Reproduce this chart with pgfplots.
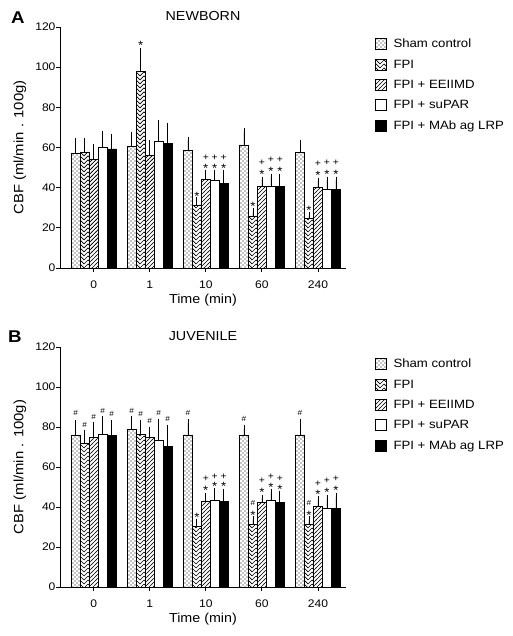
\documentclass[border=0pt]{standalone}
\usepackage{fontspec}
\setmainfont[FakeStretch=1.1]{Liberation Sans}
\usepackage{pgfplots}
\pgfplotsset{compat=1.18}
\usepackage{pgfplotstable}
\usetikzlibrary{patterns}

\pgfdeclarepatternformonly{shamdots}{\pgfpoint{-0.5pt}{-0.5pt}}{\pgfpoint{4.5pt}{4.5pt}}{\pgfpoint{4pt}{4pt}}{%
  \pgfpathcircle{\pgfpoint{1pt}{1pt}}{0.55pt}\pgfpathcircle{\pgfpoint{3pt}{3pt}}{0.55pt}\pgfusepath{fill}}
\pgfdeclarepatternformonly{chevron}{\pgfpoint{-0.5pt}{-0.5pt}}{\pgfpoint{8.5pt}{4.5pt}}{\pgfpoint{8pt}{4pt}}{%
  \pgfsetlinewidth{0.7pt}\pgfpathmoveto{\pgfpoint{0pt}{4pt}}\pgfpathlineto{\pgfpoint{4pt}{0pt}}\pgfpathlineto{\pgfpoint{8pt}{4pt}}\pgfusepath{stroke}}
\pgfdeclarepatternformonly{nelines}{\pgfpoint{-0.5pt}{-0.5pt}}{\pgfpoint{4.5pt}{4.5pt}}{\pgfpoint{4pt}{4pt}}{%
  \pgfsetlinewidth{0.7pt}\pgfpathmoveto{\pgfpoint{-0.5pt}{-0.5pt}}\pgfpathlineto{\pgfpoint{4.5pt}{4.5pt}}\pgfusepath{stroke}}

% Panel A (NEWBORN): mean and upper error
\pgfplotstableread{
x sham shamE fpi fpiE eei eeiE sup supE mab mabE
0 57.1 5.8 57.8 5.1 54.1 5.9 60.0 6.6 59.3 5.6
1 60.8 5.3 97.8 10.1 56.1 5.7 62.9 9.0 62.1 8.6
2 58.8 4.8 31.4 2.0 44.2 2.9 43.5 3.6 42.2 4.9
3 60.9 7.0 25.9 2.2 40.8 3.0 40.8 4.4 40.8 4.4
4 57.6 4.5 24.7 1.2 40.2 3.1 39.2 4.6 39.2 4.6
}\tabA
% Panel B (JUVENILE)
\pgfplotstableread{
x sham shamE fpi fpiE eei eeiE sup supE mab mabE
0 75.8 5.9 71.8 4.7 74.7 5.8 76.5 7.0 75.8 5.9
1 78.8 4.7 76.3 5.5 74.7 3.6 73.2 9.0 70.2 9.0
2 76.0 6.2 30.2 2.1 43.0 2.2 43.2 4.5 42.7 4.6
3 75.7 3.3 31.3 2.2 42.3 2.0 43.2 4.1 42.3 3.7
4 76.0 6.3 31.5 2.0 40.2 3.3 39.3 5.0 39.3 5.9
}\tabB

\newcommand\st[2]{\node[font=\fontsize{12}{12}\selectfont, inner sep=0pt, yshift=-2.6pt] at (axis cs:#1,#2) {*};}
\newcommand\pl[2]{\node[font=\fontsize{9.5}{10}\selectfont, inner sep=0pt] at (axis cs:#1,#2) {+};}
\newcommand\hs[2]{\node[font=\fontsize{7.5}{8}\selectfont, inner sep=0pt] at (axis cs:#1,#2) {\#};}
\newcommand\tl[1]{\mbox{\fontsize{11}{13}\selectfont #1}}

\pgfplotsset{cbf/.style={
  width=286pt, height=241pt, scale only axis,
  ybar=0pt, bar width=0.16,
  xmin=-0.6, xmax=4.5, ymin=0, ymax=120,
  axis x line*=bottom, axis y line*=left,
  axis line style={line width=0.8pt},
  xtick={0,...,4}, xticklabels={\tl{0},\tl{1},\tl{10},\tl{60},\tl{240}},
  ytick={0,20,40,60,80,100,120},
  yticklabels={\tl{0},\tl{20},\tl{40},\tl{60},\tl{80},\tl{100},\tl{120}},
  tick align=outside, major tick length=4pt,
  tick style={black, line width=0.8pt},
  /pgf/number format/assume math mode=true,
  xticklabel style={yshift=-5pt},
  yticklabel style={xshift=3pt},
  xlabel={Time (min)}, ylabel={CBF (ml/min . 100g)},
  ylabel style={at={(axis description cs:-0.14,0.5)}, anchor=center, font=\fontsize{13.5}{16}\selectfont},
  xlabel style={at={(axis description cs:0.5,-0.135)}, anchor=center, font=\fontsize{13}{16}\selectfont},
  title style={at={(axis description cs:0.5,1)}, anchor=base, yshift=0pt, font=\fontsize{13}{16}\selectfont},
  legend style={draw=none, fill=none, at={(axis description cs:1,1)}, anchor=north west,
    xshift=26pt, yshift=-8pt, font=\fontsize{12}{14}\selectfont, row sep=6.5pt},
  legend cell align=left,
  legend image code/.code={\draw[#1, line width=0.8pt] (0pt,-5.5pt) rectangle (11pt,5.5pt);},
  error bars/y dir=plus, error bars/y explicit,
  error bars/error bar style={line width=0.7pt, black},
  error bars/error mark options={line width=0.7pt, mark size=3.5pt, black},
}}
\pgfplotsset{
  shamst/.style={draw=black, line width=0.7pt, fill=white, postaction={pattern=shamdots}},
  fpist/.style={draw=black, line width=0.7pt, fill=white, postaction={pattern=chevron}},
  eeist/.style={draw=black, line width=0.7pt, fill=white, postaction={pattern=nelines}},
  supst/.style={draw=black, line width=0.7pt, fill=white},
  mabst/.style={draw=black, line width=0.7pt, fill=black},
}
\newcommand\lsp{\hspace{4.5pt}}

\begin{document}
\begin{tikzpicture}
\useasboundingbox (0,0) rectangle (512pt,636pt);
% ---------- A ----------
\begin{axis}[cbf, at={(60pt,368pt)}, anchor=south west, title={NEWBORN}]
\addplot[shamst] table[x=x, y=sham, y error=shamE]{\tabA};
\addplot[fpist] table[x=x, y=fpi, y error=fpiE]{\tabA};
\addplot[eeist] table[x=x, y=eei, y error=eeiE]{\tabA};
\addplot[supst] table[x=x, y=sup, y error=supE]{\tabA};
\addplot[mabst] table[x=x, y=mab, y error=mabE]{\tabA};
\legend{\lsp Sham control, \lsp FPI, \lsp FPI + EEIIMD, \lsp FPI + suPAR, \lsp FPI + MAb ag LRP}
\st{0.84}{112}
\st{1.84}{37.2}
\st{2}{51}\pl{2}{55}\st{2.16}{51}\pl{2.16}{55}\st{2.32}{51}\pl{2.32}{55}
\st{2.84}{32.2}
\st{3}{48}\pl{3}{52.5}\st{3.16}{49.6}\pl{3.16}{53.8}\st{3.32}{49.6}\pl{3.32}{53.8}
\st{3.84}{30}
\st{4}{47.6}\pl{4}{52.1}\st{4.16}{48}\pl{4.16}{52.5}\st{4.32}{48}\pl{4.32}{52.5}
\end{axis}
% ---------- B ----------
\begin{axis}[cbf, at={(60pt,49pt)}, anchor=south west, height=240pt, title={JUVENILE}]
\addplot[shamst] table[x=x, y=sham, y error=shamE]{\tabB};
\addplot[fpist] table[x=x, y=fpi, y error=fpiE]{\tabB};
\addplot[eeist] table[x=x, y=eei, y error=eeiE]{\tabB};
\addplot[supst] table[x=x, y=sup, y error=supE]{\tabB};
\addplot[mabst] table[x=x, y=mab, y error=mabE]{\tabB};
\legend{\lsp Sham control, \lsp FPI, \lsp FPI + EEIIMD, \lsp FPI + suPAR, \lsp FPI + MAb ag LRP}
\hs{-0.32}{86.8}\hs{-0.16}{80.8}\hs{0}{84.8}\hs{0.16}{88.2}\hs{0.32}{86.5}
\hs{0.68}{88}\hs{0.84}{86.7}\hs{1}{83.2}\hs{1.16}{86.8}\hs{1.32}{83.8}
\hs{1.68}{86.8}\st{1.84}{36}
\st{2}{49.8}\pl{2}{54}\st{2.16}{51.5}\pl{2.16}{55}\st{2.32}{51.5}\pl{2.32}{55}
\hs{2.68}{83.8}\st{2.84}{37.2}\hs{2.84}{41.8}
\st{3}{48.5}\pl{3}{53}\st{3.16}{51.2}\pl{3.16}{55.3}\st{3.32}{50.2}\pl{3.32}{54.3}
\hs{3.68}{86.8}\st{3.84}{37}\hs{3.84}{41.8}
\st{4}{47.7}\pl{4}{51.8}\st{4.16}{48.5}\pl{4.16}{53}\st{4.32}{49.8}\pl{4.32}{54}
\end{axis}
\node[font=\bfseries\fontsize{17}{17}\selectfont, anchor=base west, inner sep=0pt] at (11pt,612pt) {A};
\node[font=\bfseries\fontsize{17}{17}\selectfont, anchor=base west, inner sep=0pt] at (8pt,293pt) {B};
\end{tikzpicture}
\end{document}
